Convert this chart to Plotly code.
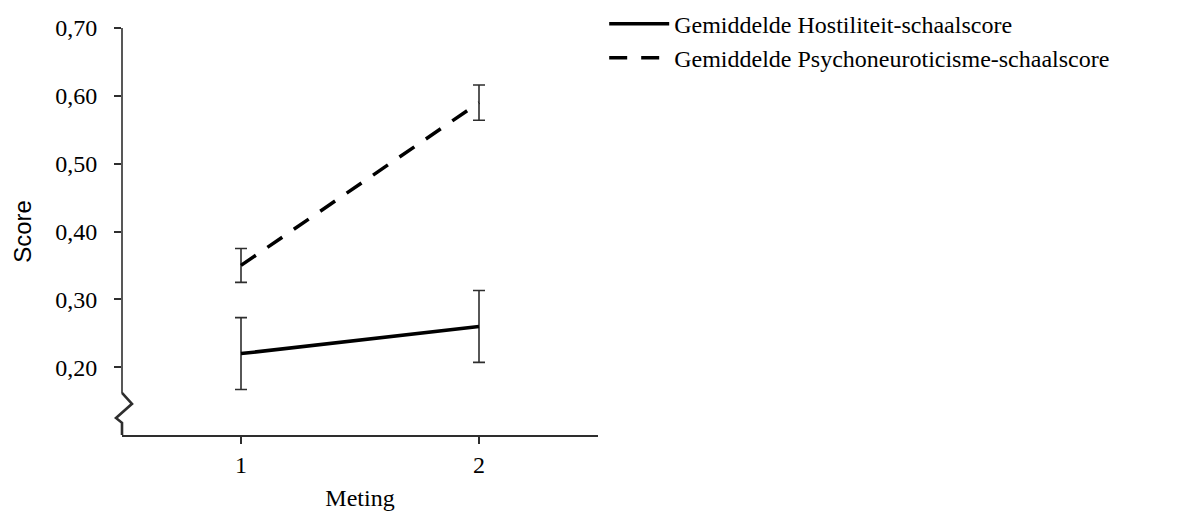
import plotly.graph_objects as go

# Data
meting = [1, 2]
hostiliteit = [0.22, 0.26]
hostiliteit_err = [0.053, 0.053]
psycho = [0.35, 0.59]
psycho_err = [0.025, 0.026]
y_ticks = [0.20, 0.30, 0.40, 0.50, 0.60, 0.70]
x_ticks = [1, 2]
names = ["Gemiddelde Hostiliteit-schaalscore", "Gemiddelde Psychoneuroticisme-schaalscore"]

SERIF = "Liberation Serif"
SANS = "Liberation Sans"
AX = "#2e2e2e"

fig = go.Figure()
fig.add_trace(go.Scatter(
    x=meting, y=hostiliteit, mode="lines", name=names[0],
    line=dict(color="black", width=3.5),
    error_y=dict(type="data", array=hostiliteit_err, visible=True,
                 color=AX, thickness=1.6, width=6),
))
fig.add_trace(go.Scatter(
    x=meting, y=psycho, mode="lines", name=names[1],
    line=dict(color="black", width=3.5, dash="18px,14px"),
    error_y=dict(type="data", array=psycho_err, visible=True,
                 color=AX, thickness=1.6, width=6),
))

# y axis line drawn with an axis-break zigzag
fig.add_shape(type="line", xref="paper", yref="y", x0=0, x1=0, y0=0.70, y1=0.162,
              line=dict(color=AX, width=1.6))
fig.add_shape(type="path", xref="paper", yref="y", xsizemode="pixel", xanchor=0,
              path="M0,0.162 L10,0.146 L-6,0.125 L0,0.118 L0,0.10",
              line=dict(color=AX, width=2.6))

fig.update_layout(
    width=1178, height=512,
    margin=dict(l=122, r=580, t=28, b=77, autoexpand=False),
    paper_bgcolor="white", plot_bgcolor="white",
    separators=",.",
    font=dict(family=SERIF, size=24, color="black"),
    showlegend=True,
    legend=dict(x=1.013, y=1.065, xanchor="left", yanchor="top", itemwidth=60,
                font=dict(family=SERIF, size=24, color="black"),
                bgcolor="rgba(0,0,0,0)", tracegroupgap=0),
    xaxis=dict(range=[0.5, 2.5], tickvals=x_ticks, ticktext=[str(v) for v in x_ticks],
               showgrid=False, zeroline=False, showline=True, linecolor=AX, linewidth=1.6,
               ticks="outside", ticklen=7, tickwidth=1.6, tickcolor=AX,
               tickfont=dict(family=SERIF, size=24, color="black"),
               title=dict(text="Meting", font=dict(family=SERIF, size=24, color="black"), standoff=13)),
    yaxis=dict(range=[0.10, 0.70], tickvals=y_ticks, tickformat=".2f",
               showgrid=False, zeroline=False, showline=False,
               ticks="outside", ticklen=7, tickwidth=1.6, tickcolor=AX,
               ticklabelstandoff=12,
               tickfont=dict(family=SERIF, size=24, color="black"),
               title=dict(text="Score", font=dict(family=SANS, size=24, color="black"), standoff=16)),
)

fig.write_html("out.html")
